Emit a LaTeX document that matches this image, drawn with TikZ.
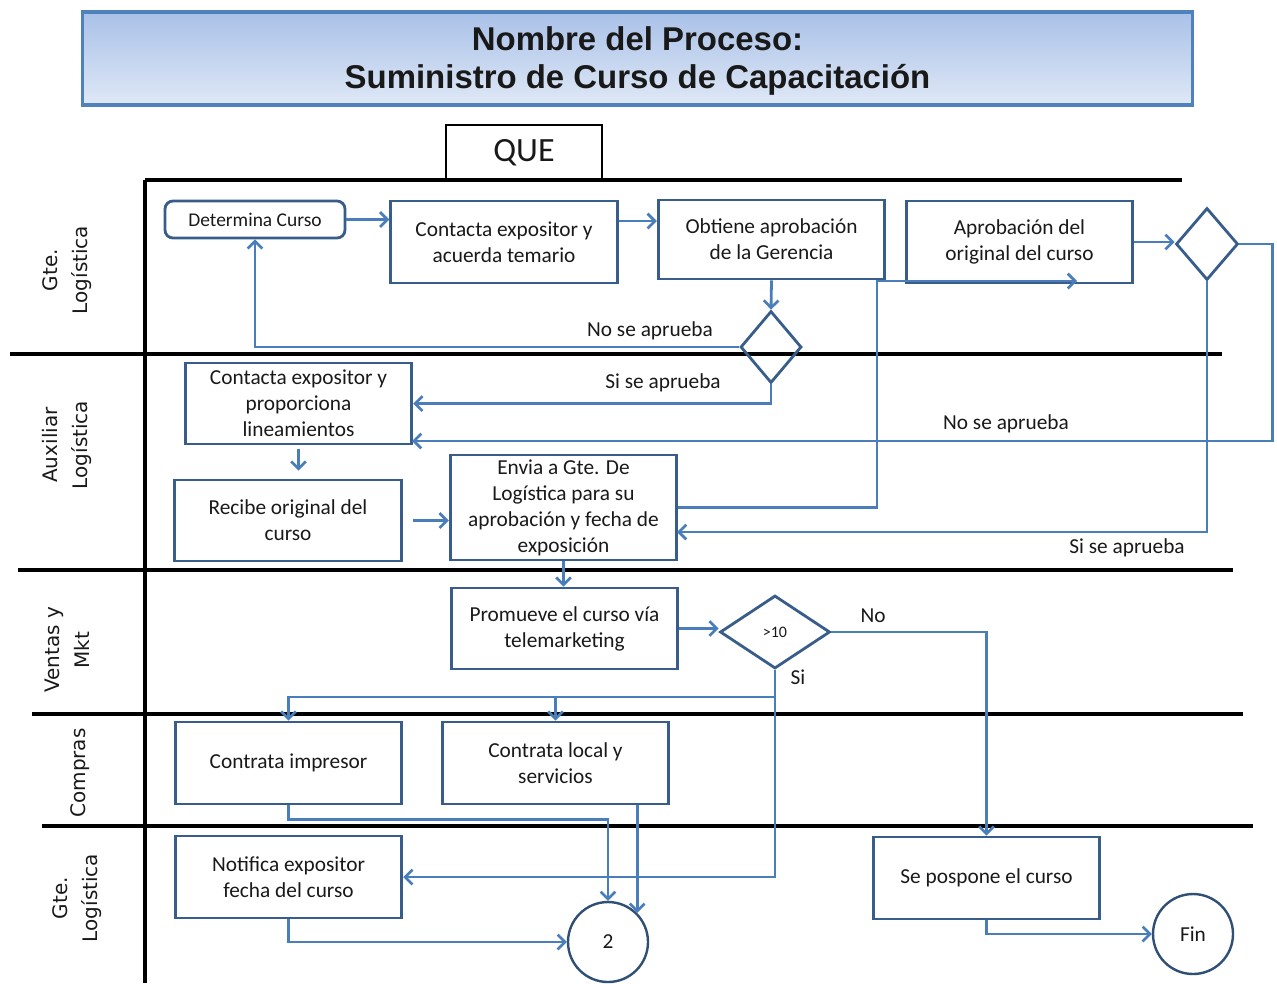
\documentclass[tikz,border=0pt]{standalone}
\usepackage{fontspec}
\setmainfont{Carlito}
\newfontfamily\titlefont{Liberation Sans}
\newfontfamily\lanefont{DejaVu Sans}
\usetikzlibrary{arrows.meta,shapes.geometric,calc}

\definecolor{boxblue}{HTML}{385D8A}
\definecolor{linkblue}{HTML}{4A7EBB}
\definecolor{titleedge}{HTML}{4F81BD}
\definecolor{titletop}{HTML}{A9C1E8}
\definecolor{titlebot}{HTML}{DFE8F6}

\begin{document}
\begin{tikzpicture}[x=0.75pt,y=-0.75pt,
  every node/.style={font=\fontsize{16}{19.5}\selectfont, text=black!90},
  proc/.style={draw=boxblue, line width=2.1pt, minimum width=170pt, minimum height=61.5pt, align=center, inner sep=0pt},
  dec/.style={diamond, draw=boxblue, line width=2.1pt, inner sep=0pt},
  term/.style={circle, draw=boxblue!85!black, line width=1.8pt, minimum size=60pt, inner sep=0pt, fill=white},
  lane/.style={line width=2.4pt, draw=black},
  flow/.style={draw=linkblue, line width=2.1pt, -{Straight Barb[length=5.5pt,width=11pt,line width=2pt]}},
  lanelabel/.style={rotate=90, align=center, inner sep=0pt, font=\lanefont\fontsize{15}{22.5}\selectfont},
  note/.style={inner sep=0pt}
]
\useasboundingbox (0,0) rectangle (1277,983);

% heading
\node[draw=titleedge, line width=2.4pt, top color=titletop, bottom color=titlebot,
      minimum width=833pt, minimum height=69.75pt, inner sep=0pt] (title) at (637.5,58.5) {};
\node[align=center, inner sep=0pt, font=\titlefont\bfseries\fontsize{24.7}{28.5}\selectfont]
  (titletext) at (637.5,61) {Nombre del Proceso:\\Suministro de Curso de Capacitación};

\node[draw=black, line width=2.2pt, minimum width=117pt, minimum height=41.25pt, inner sep=0pt,
      font=\fontsize{25.5}{28}\selectfont] (que) at (524,152.5) {\raisebox{-1.5pt}{QUE}};

% swimlane rules
\draw[lane] (145,180) -- (1182,180);
\draw[lane] (145,180) -- (145,983);
\draw[lane] (10,354) -- (1222,354);
\draw[lane] (18,570) -- (1233,570);
\draw[lane] (32,714) -- (1243,714);
\draw[lane] (42,826) -- (1253,826);

% lane titles
\node[lanelabel] (l1) at (67,270) {Gte.\\Logística};
\node[lanelabel] (l2) at (67,445) {Auxiliar\\Logística};
\node[lanelabel] (l3) at (67,650) {Ventas y\\Mkt};
\node[lanelabel] (l4) at (80,773) {Compras};
\node[lanelabel] (l5) at (77,898) {Gte.\\Logística};

% activities
\node[draw=boxblue, line width=2.1pt, rounded corners=6pt, minimum width=135pt, minimum height=27.75pt,
      inner sep=0pt, font=\fontsize{14.6}{17}\selectfont] (det) at (255,219.5) {Determina Curso};
\node[proc] (con1) at (504,242) {Contacta expositor y\\acuerda temario};
\node[proc, minimum height=59.25pt] (obt) at (771.5,239.5) {Obtiene aprobación\\de la Gerencia};
\node[proc] (apr) at (1019.5,242) {Aprobación del\\original del curso};
\node[dec, minimum width=46.5pt, minimum height=54pt] (d2) at (1207,244) {};
\node[dec, minimum width=45.75pt, minimum height=54pt] (d1) at (771,347) {};

\node[proc, minimum height=60.75pt] (con2) at (298.5,403.5) {Contacta expositor y\\proporciona\\lineamientos};
\node[proc, minimum height=60.75pt] (rec) at (288,520.5) {Recibe original del\\curso};
\node[proc, minimum height=78.75pt] (env) at (563.5,507.5) {Envia a Gte. De\\Logística para su\\aprobación y fecha de\\exposición};

\node[proc, minimum height=60.75pt] (pro) at (564.5,628.5) {Promueve el curso vía\\telemarketing};
\node[dec, minimum width=82.5pt, minimum height=54.75pt, font=\fontsize{12}{13}\selectfont] (d3) at (775,632) {>10};

\node[proc] (ci) at (288.5,763) {Contrata impresor};
\node[proc] (cl) at (555.5,763) {Contrata local y\\servicios};

\node[proc] (not) at (288.5,877) {Notifica expositor\\fecha del curso};
\node[term] (c2) at (608,942) {2};
\node[proc] (sp) at (986.5,878) {Se pospone el curso};
\node[term] (fin) at (1193,934) {Fin};

% junction points
\coordinate (jn) at (877,281);
\coordinate (aprin) at (1077,281);
\coordinate (con2low) at (412,441);
\coordinate (envlow) at (677,532);
\coordinate (br) at (775,697);

% flows, first lane
\draw[flow] (det.east) -- (det.east -| con1.west);
\draw[flow] (con1.east |- 0,221) -- (obt.west |- 0,221);
\draw[flow] (obt.south) -- (d1.north);
\draw[flow] (d1.west) -| (det.south);
\node[note] (t1) at (650,331) {No se aprueba};
\draw[flow] (apr.east) -- (apr.east -| d2.west);

% flows, second lane
\draw[flow] (d1.south) |- (con2.east);
\node[note] (t2) at (663,383) {Si se aprueba};
\draw[flow] (env.east) -| (jn) -- (aprin);
\draw[flow] (d2.east) -- ++(33,0) |- (con2low);
\node[note] (t3) at (1006,424) {No se aprueba};
\draw[flow] (d2.south) |- (envlow);
\node[note] (t4) at (1127,548) {Si se aprueba};
\draw[flow, shorten <=3pt, shorten >=6pt] (con2.south) -- (con2.south |- rec.north);
\draw[flow, shorten <=8pt] (rec.east) -- (rec.east -| env.west);

% flows, third lane
\draw[flow] (env.south) -- (env.south |- pro.north);
\draw[flow] (pro.east) -- (pro.east -| d3.west);
\draw[flow] (d3.east) -| (sp.north);
\node[note] (t5) at (873,616) {No};
\draw[flow] (d3.south) |- (not.east);
\node[note] (t6) at (798,677) {Si};
\draw[flow] (br) -| (ci.north);
\draw[flow] (cl.north |- br) -- (cl.north);

% flows, purchasing and closing
\draw[flow] (ci.south) -- ++(0,14) -| (c2.north);
\draw[flow] (c2.45 |- cl.south) -- (c2.45);
\draw[flow] (not.south) |- (c2.west);
\draw[flow] (sp.south) |- (fin.west);
\end{tikzpicture}
\end{document}
